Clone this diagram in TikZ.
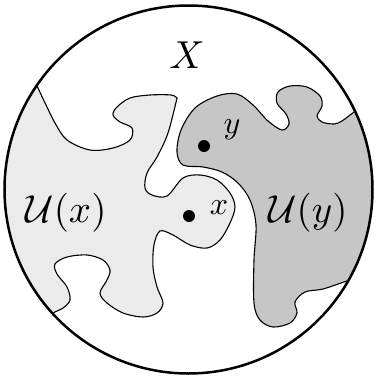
\documentclass[tikz,border=0pt]{standalone}
\usepackage{amsmath}
\begin{document}
\begin{tikzpicture}[x=1pt,y=-1pt,
  region/.style={draw=black, line width=1.1pt},
  dotpt/.style={circle, fill=black, inner sep=0pt, minimum size=12pt},
  biglabel/.style={inner sep=0pt, scale=3.9},
  smalllabel/.style={inner sep=0pt, scale=3.2}]
\definecolor{lightreg}{HTML}{EBEBEB}
\definecolor{darkreg}{HTML}{C6C6C6}
\useasboundingbox (0,0) rectangle (377,378);
\coordinate (c) at (188.5,189.5);
\begin{scope}
\clip (c) circle (184);
% light region U(x)
\filldraw[region, fill=lightreg]
  plot[smooth, tension=0.55] coordinates {
   (30,70) (38,88) (47,107) (55,123) (67,140) (90,150) (113,148) (130,140)
   (132,128) (120,122) (113,115) (117,107) (130,98) (150,95) (171,95) (177,98)}
  -- plot[smooth, tension=0.55] coordinates {
   (177,98) (168,133) (157,157) (147,173) (145,188) (152,195) (167,196)
   (183,178) (200,175) (217,180) (230,193) (235,207) (230,223) (220,240)
   (207,248) (190,245) (173,235) (160,231) (154,245) (153,267) (157,287)
   (163,303) (157,313) (143,317) (123,313) (107,303) (100,293) (107,280)
   (110,270) (103,260) (87,255) (67,257) (55,264) (57,274) (67,287) (70,300)
   (63,308) (53,313) (40,322)}
  -- (-30,330) -- (-30,60) -- cycle;
% dark region U(y)
\filldraw[region, fill=darkreg]
  plot[smooth, tension=0.55] coordinates {
   (362,106) (350,115) (342,121) (334,124) (322,122) (317,116) (322,106)
   (320,96) (307,87) (290,86) (278,92) (277,103) (286,114) (289,124)
   (282,130) (268,121) (253,105) (237,94) (217,96) (195,108) (181,130)
   (177,152) (183,165) (203,167) (222,172) (238,183) (250,200) (256,225)
   (254,260) (254,303) (260,320) (273,327) (290,323) (297,313) (295,302)
   (305,292) (323,289) (347,281) (362,277)}
  -- (400,280) -- (400,100) -- cycle;
\end{scope}
\draw[line width=2.5pt] (c) circle (184);
\node[dotpt] (px) at (189,216) {};
\node[dotpt] (py) at (204,146) {};
\node[smalllabel] (lx) at (219,208) {$x$};
\node[smalllabel] (ly) at (232,130) {$y$};
\node[biglabel] (lX) at (187,55) {$X$};
\node[biglabel] (lUx) at (66,213) {$\mathcal{U}(x)$};
\node[biglabel] (lUy) at (308,213) {$\mathcal{U}(y)$};
\end{tikzpicture}
\end{document}
